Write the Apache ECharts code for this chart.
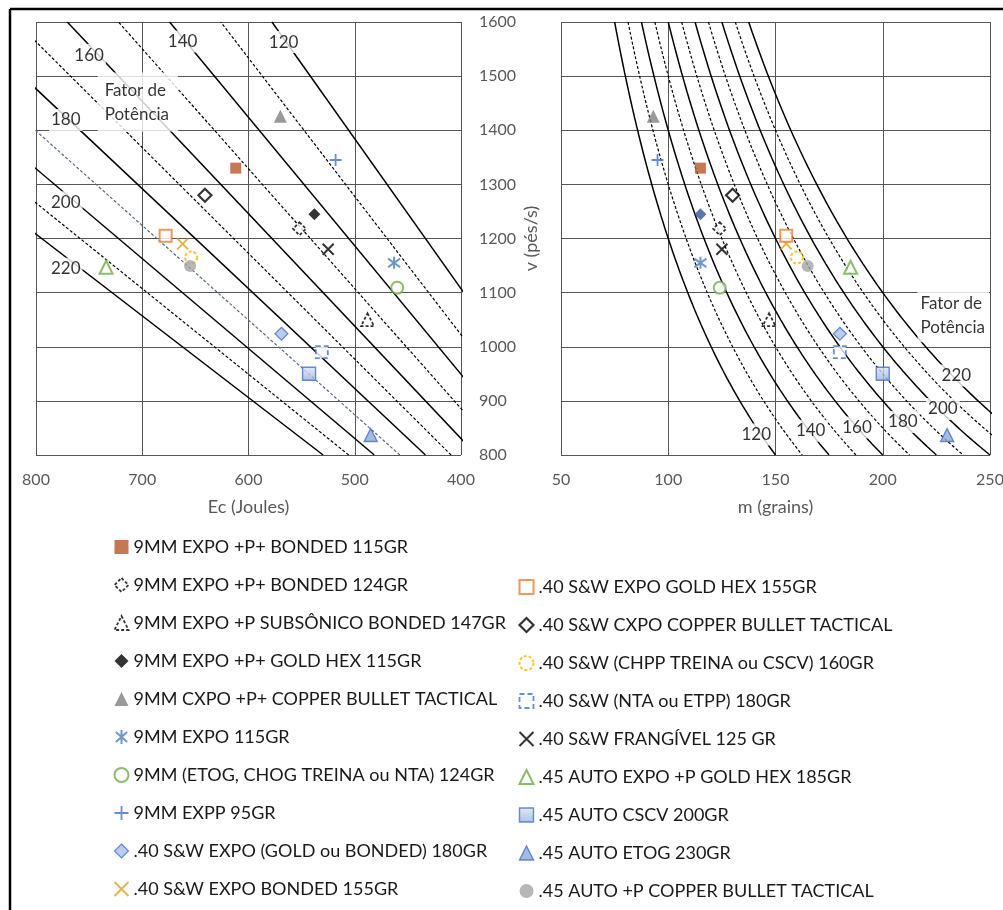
<!DOCTYPE html>
<html><head><meta charset="utf-8">
<script src="https://cdn.jsdelivr.net/npm/echarts@6/dist/echarts.min.js"></script>
<style>html,body{margin:0;padding:0;background:#fff}#c{width:1003px;height:910px}</style>
</head><body><div id="c"></div>
<script>
// ---------------- DATA ----------------
const seriesNames = [
  '9MM EXPO +P+ BONDED 115GR',
  '9MM EXPO +P+ BONDED 124GR',
  '9MM EXPO +P SUBSÔNICO BONDED 147GR',
  '9MM EXPO +P+ GOLD HEX 115GR',
  '9MM CXPO +P+ COPPER BULLET TACTICAL',
  '9MM EXPO 115GR',
  '9MM (ETOG, CHOG TREINA ou NTA) 124GR',
  '9MM EXPP 95GR',
  '.40 S&W EXPO (GOLD ou BONDED) 180GR',
  '.40 S&W EXPO BONDED 155GR',
  '.40 S&W EXPO GOLD HEX 155GR',
  '.40 S&W CXPO COPPER BULLET TACTICAL',
  '.40 S&W (CHPP TREINA ou CSCV) 160GR',
  '.40 S&W (NTA ou ETPP) 180GR',
  '.40 S&W FRANGÍVEL 125 GR',
  '.45 AUTO EXPO +P GOLD HEX 185GR',
  '.45 AUTO CSCV 200GR',
  '.45 AUTO ETOG 230GR',
  '.45 AUTO +P COPPER BULLET TACTICAL'
];
const massGrains   = [115, 124, 147, 115, 93, 115, 124, 95, 180, 155, 155, 130, 160, 180, 125, 185, 200, 230, 165];
const velocityFps  = [1330, 1218, 1050, 1245, 1426, 1155, 1109, 1345, 1024, 1190, 1205, 1280, 1165, 990, 1180, 1147, 950, 837, 1149];
const energyJoules = [612, 552, 488, 538, 570, 463, 460, 518, 569, 662, 678, 641, 654, 531, 525, 734, 543, 485, 655];
const powerFactors = [120, 130, 140, 150, 160, 170, 180, 190, 200, 210, 220];
const ecTicks = [800, 700, 600, 500, 400];
const massTicks = [50, 100, 150, 200, 250];
const velTicks = [800, 900, 1000, 1100, 1200, 1300, 1400, 1500, 1600];
const leftLegendNames = seriesNames.slice(0, 10);
const rightLegendNames = seriesNames.slice(10);

// ---------------- HELPERS ----------------
// kinetic energy (J) of a bullet of given power factor at velocity v (ft/s)
const J_PER_GR_FPS2 = 0.5 * 6.479891e-5 * 0.3048 * 0.3048;
function ecFromPF(pf, v) { return (pf * 1000 / v) * v * v * J_PER_GR_FPS2; }

const FONT = 'Lato';
const P_PLUS = 'path://M5,0L5,10M0,5L10,5';
const P_X = 'path://M0,0L10,10M10,0L0,10';
const P_STAR = 'path://M1,1.5L9,8.5M9,1.5L1,8.5M5,0L5,10';

const markerStyles = [
  {symbol: 'rect', size: 11, it: {color: '#B8562A'}},
  {symbol: 'diamond', size: 13, it: {color: '#fff', borderColor: '#000', borderWidth: 1.8, borderType: [3, 2]}},
  {symbol: 'triangle', size: 13, it: {color: '#fff', borderColor: '#000', borderWidth: 1.8, borderType: [3, 2]}},
  {symbol: 'diamond', size: 12, it: {color: '#000'}, itR: {color: '#2F5597'}},
  {symbol: 'triangle', size: 13, it: {color: '#7F7F7F'}},
  {symbol: P_STAR, size: 12, it: {color: 'none', borderColor: '#4A7EBB', borderWidth: 2}},
  {symbol: 'circle', size: 12, it: {color: '#fff', borderColor: '#70AD47', borderWidth: 2}},
  {symbol: P_PLUS, size: 12, it: {color: 'none', borderColor: '#4472C4', borderWidth: 1.8}},
  {symbol: 'diamond', size: 13, it: {color: '#A9C0E8', borderColor: '#4472C4', borderWidth: 1.2}},
  {symbol: P_X, size: 11, it: {color: 'none', borderColor: '#D9A521', borderWidth: 2}},
  {symbol: 'rect', size: 12, it: {color: '#fff', borderColor: '#ED7D31', borderWidth: 2}},
  {symbol: 'diamond', size: 13, it: {color: '#fff', borderColor: '#000', borderWidth: 2.2}},
  {symbol: 'circle', size: 12, it: {color: '#fff', borderColor: '#F2B800', borderWidth: 2, borderType: [3, 2]}},
  {symbol: 'rect', size: 12, it: {color: '#fff', borderColor: '#4472C4', borderWidth: 1.8, borderType: [5, 3]}},
  {symbol: P_X, size: 11, it: {color: 'none', borderColor: '#000', borderWidth: 2}},
  {symbol: 'triangle', size: 13, it: {color: '#fff', borderColor: '#70AD47', borderWidth: 2}},
  {symbol: 'rect', size: 13, it: {color: new echarts.graphic.LinearGradient(0, 0, 0, 1, [{offset: 0, color: '#DCE5F4'}, {offset: 1, color: '#98B2DE'}]), borderColor: '#4472C4', borderWidth: 1.4}},
  {symbol: 'triangle', size: 13, it: {color: '#8FAADC', borderColor: '#4472C4', borderWidth: 1.4}},
  {symbol: 'circle', size: 12, it: {color: '#A5A5A5'}}
];

const chart = echarts.init(document.getElementById('c'), null, {renderer: 'canvas'});

const series = [];
// power-factor iso-lines
powerFactors.forEach(function (pf) {
  const solid = pf % 20 === 0;
  const leftColor = pf === 190 ? '#56698A' : '#000';
  const ls = solid ? {color: '#000', width: 1.5, type: 'solid'} : {color: leftColor, width: 1.2, type: [3, 2]};
  series.push({
    type: 'line', xAxisIndex: 0, yAxisIndex: 0, silent: true, symbol: 'none', z: 2,
    lineStyle: ls, clip: true,
    data: [[ecFromPF(pf, 800), 800], [ecFromPF(pf, 1600), 1600]]
  });
  const pts = [];
  const m0 = pf * 1000 / 1600, m1 = pf * 1000 / 800;
  for (let k = 0; k <= 80; k++) { const m = m0 + (m1 - m0) * k / 80; pts.push([m, pf * 1000 / m]); }
  series.push({
    type: 'line', xAxisIndex: 1, yAxisIndex: 1, silent: true, symbol: 'none', z: 2,
    lineStyle: solid ? {color: '#000', width: 1.5} : {color: '#000', width: 1.2, type: [3, 2]}, clip: true,
    data: pts
  });
});

// annotation labels (white boxes that break the lines, as in the reference)
function annot(xi, items) {
  return {
    type: 'scatter', xAxisIndex: xi, yAxisIndex: xi, silent: true, symbolSize: 0, z: 20,
    data: items.map(function (a) {
      return {value: [a.x, a.y], label: {show: true, position: 'inside', formatter: a.t,
        align: a.align || 'center', verticalAlign: 'middle',
        fontFamily: FONT, fontSize: 17, color: '#000', lineHeight: a.lh || 20,
        backgroundColor: '#fff', padding: a.pad || [1, 2]}};
    })
  };
}
series.push(annot(0, [
  {t: '160', x: 750, y: 1539}, {t: '140', x: 662, y: 1564}, {t: '120', x: 567, y: 1563},
  {t: '180', x: 772, y: 1419}, {t: '200', x: 772, y: 1267}, {t: '220', x: 772, y: 1144},
  {t: 'Fator de\nPotência', x: 742, y: 1452, align: 'left', lh: 24, pad: [7, 9, 4, 7]}
]));
series.push(annot(1, [
  {t: '120', x: 141, y: 838}, {t: '140', x: 166.4, y: 845}, {t: '160', x: 188, y: 851},
  {t: '180', x: 209.4, y: 861}, {t: '200', x: 228, y: 885}, {t: '220', x: 234.3, y: 947},
  {t: 'Fator de\nPotência', x: 216.2, y: 1058, align: 'left', lh: 24, pad: [3, 4, 3, 3]}
]));

// product points
seriesNames.forEach(function (name, i) {
  const st = markerStyles[i];
  series.push({
    name: name, type: 'scatter', xAxisIndex: 0, yAxisIndex: 0, z: 10,
    symbol: st.symbol, symbolSize: st.size, itemStyle: st.it,
    data: [[energyJoules[i], velocityFps[i]]]
  });
});
seriesNames.forEach(function (name, i) {
  const st = markerStyles[i];
  series.push({
    name: name, type: 'scatter', xAxisIndex: 1, yAxisIndex: 1, z: 10,
    symbol: st.symbol, symbolSize: st.size, itemStyle: Object.assign({}, st.it, st.itR || {}),
    data: [[massGrains[i], velocityFps[i]]]
  });
});

const gridLine = {show: true, lineStyle: {color: '#555', width: 1}};
const plainNum = function (v) { return String(v); };
const tickLbl = {fontFamily: FONT, fontSize: 16, color: '#595959', formatter: plainNum};
const nameStyle = {fontFamily: FONT, fontSize: 18, color: '#595959'};

function legendItems(names, offset) {
  return names.map(function (n, j) {
    const st = markerStyles[offset + j];
    return {name: n, icon: st.symbol, itemStyle: Object.assign({}, st.it)};
  });
}
const legendBase = {
  orient: 'vertical', padding: 0, itemWidth: 14, itemHeight: 14, itemGap: 18,
  selectedMode: false,
  textStyle: {fontFamily: FONT, fontSize: 18, color: '#1a1a1a', lineHeight: 20}
};

chart.setOption({
  animation: false,
  backgroundColor: '#fff',
  grid: [
    {left: 36, top: 22, width: 425, height: 433, outerBoundsMode: 'none', containLabel: false},
    {left: 561, top: 22, width: 429, height: 433, outerBoundsMode: 'none', containLabel: false}
  ],
  xAxis: [
    {type: 'value', gridIndex: 0, min: ecTicks[ecTicks.length - 1], max: ecTicks[0], interval: 100, inverse: true,
     axisLine: {show: false}, axisTick: {show: false}, splitLine: gridLine,
     axisLabel: Object.assign({margin: 17}, tickLbl),
     name: 'Ec (Joules)', nameLocation: 'middle', nameGap: 43, nameTextStyle: nameStyle},
    {type: 'value', gridIndex: 1, min: massTicks[0], max: massTicks[massTicks.length - 1], interval: 50,
     axisLine: {show: false}, axisTick: {show: false}, splitLine: gridLine,
     axisLabel: Object.assign({margin: 17}, tickLbl),
     name: 'm (grains)', nameLocation: 'middle', nameGap: 43, nameTextStyle: nameStyle}
  ],
  yAxis: [
    {type: 'value', gridIndex: 0, position: 'right', min: velTicks[0], max: velTicks[velTicks.length - 1], interval: 100,
     axisLine: {show: false}, axisTick: {show: false}, splitLine: gridLine,
     axisLabel: Object.assign({margin: 18}, tickLbl)},
    {type: 'value', gridIndex: 1, position: 'left', min: velTicks[0], max: velTicks[velTicks.length - 1], interval: 100,
     axisLine: {show: false}, axisTick: {show: false}, splitLine: gridLine,
     axisLabel: {show: false},
     name: 'v (pés/s)', nameLocation: 'middle', nameGap: 21, nameRotate: 90, nameTextStyle: nameStyle}
  ],
  legend: [
    Object.assign({left: 112, top: 537, data: legendItems(leftLegendNames, 0)}, legendBase),
    Object.assign({left: 517, top: 577, data: legendItems(rightLegendNames, 10)}, legendBase)
  ],
  graphic: [
    {type: 'line', shape: {x1: 10, y1: 9, x2: 1003, y2: 9}, style: {stroke: '#000', lineWidth: 2.5}, silent: true},
    {type: 'line', shape: {x1: 10, y1: 9, x2: 10, y2: 910}, style: {stroke: '#000', lineWidth: 2.5}, silent: true}
  ],
  series: series
});
</script>
</body></html>
